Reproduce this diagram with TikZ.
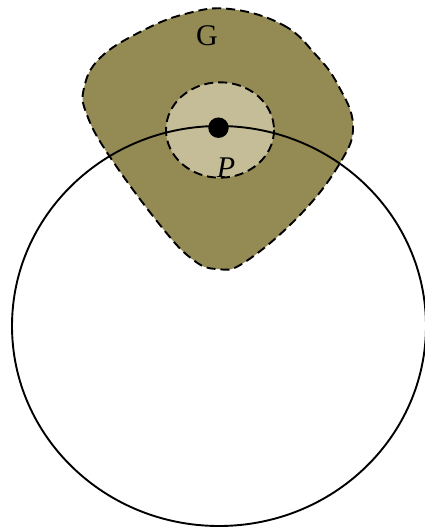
\documentclass[tikz,border=0pt]{standalone}
\usepackage{fontspec}
\setmainfont{Liberation Serif}
\usepackage{xcolor}
\definecolor{oliva}{HTML}{948A54}
\definecolor{tostado}{HTML}{C4BD97}

\begin{document}
\begin{tikzpicture}[x=1pt, y=-1pt,
        % Estilo para los bordes discontinuos
        borde/.style={
            draw=black,
            line width=1.9pt,
            dash pattern=on 9pt off 5pt
        },
        % Estilo para el punto P
        punto/.style={
            circle,
            fill=black,
            inner sep=0pt,
            minimum size=20.5pt
        },
        % Estilo para las etiquetas
        etiqueta/.style={
            font=\fontsize{30}{36}\selectfont,
            inner sep=0pt
        }
    ]
        \useasboundingbox (0,0) rectangle (425,527);

        % Region G
        \draw[borde, fill=oliva] plot[smooth cycle, tension=0.7] coordinates {
            (230,9) (283,25) (316,55) (338,85) (353,125) (340,163)
            (300,215) (245,262) (217,269) (192,259) (160,225) (110,157)
            (87,115) (84,88) (100,58) (140,32) (185,14)};

        % Entorno de P
        \draw[borde, fill=tostado] (220,130) ellipse [x radius=54, y radius=47.7];

        % Circulo grande
        \draw[line width=1.9pt] (219,326) ellipse [x radius=207, y radius=200];

        % Punto y etiquetas
        \node[punto] (p) at (218.5,127.7) {};
        \node[etiqueta, anchor=base] (etiqp) at (226,177) {\textit{P}};
        \node[etiqueta] (etiqg) at (207,35.5) {G};

    \end{tikzpicture}
\end{document}
